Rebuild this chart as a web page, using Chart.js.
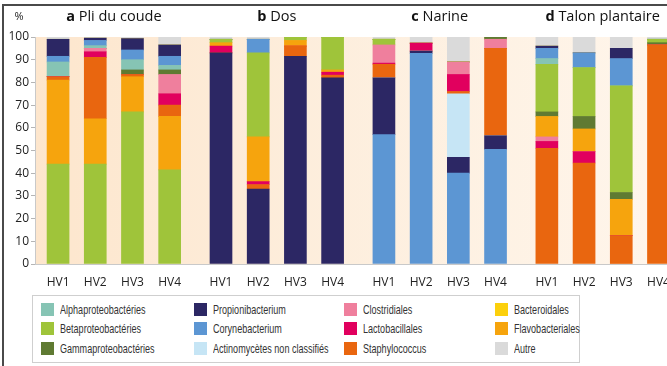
<!DOCTYPE html>
<html>
<head>
<meta charset="utf-8">
<title>Microbiote cutané - 4 sites</title>
<script src="https://cdn.jsdelivr.net/npm/chart.js"></script>
<style>
  body {
    margin: 0;
    background: #fff;
    overflow: hidden;
    font-family: 'Liberation Sans', Arial, sans-serif;
  }
  .frame {
    position: absolute;
    left: 2px;
    top: 4px;
    width: 720px;
    height: 400px;
    border-top: 2px solid #4a4a4a;
    border-left: 2px solid #4a4a4a;
  }
  .chart-box {
    position: absolute;
    left: 0;
    top: 0;
    width: 690px;
    height: 292px;
  }
  .legend {
    position: absolute;
    left: 32px;
    top: 295px;
    width: 548px;
    height: 68px;
    border: 1px solid #cfcfcf;
    box-sizing: border-box;
    background: #fff;
  }
  .legend .item {
    position: absolute;
    display: flex;
    align-items: center;
    font-size: 13.5px;
    color: #333;
    white-space: nowrap;
  }
  .legend .sw {
    width: 13px;
    height: 13px;
    margin-right: 6px;
    flex: none;
  }
  /* narrow face for the legend labels */
  .legend .txt {
    display: inline-block;
    transform: scaleX(0.67);
    transform-origin: left center;
  }
</style>
</head>
<body>
  <div class="frame"></div>
  <div class="chart-box"><canvas id="abundance" width="690" height="292"></canvas></div>
  <div class="legend" id="legend"></div>

<script>
  // sites (panels) and volunteers
  const siteLetters = ['a', 'b', 'c', 'd'];
  const sites = ['Pli du coude', 'Dos', 'Narine', 'Talon plantaire'];
  const volunteers = ['HV1', 'HV2', 'HV3', 'HV4'];
  const yTicks = [0, 10, 20, 30, 40, 50, 60, 70, 80, 90, 100];

  // relative abundance (%) : a HV1-4, b HV1-4, c HV1-4, d HV1-4
  const alphaproteo   = [6.5, 1.2, 4.5, 2,    0, 0, 0, 0,       0, 0, 0, 0,          2.5, 0, 0, 0];
  const betaproteo    = [44, 44, 67, 41.5,    1.5, 37, 1.5, 14.5, 2.5, 0, 0, 0,        21, 21.5, 47, 1.5];
  const gammaproteo   = [0, 0, 2, 2,          0, 0, 0, 0,       0, 0, 0, 1,          2, 5.5, 3, 1];
  const propioni      = [7.5, 1, 5, 5,        93, 33, 91.5, 82, 25, 1, 7, 6,         1, 0, 4.5, 0];
  const coryne        = [2.5, 2.3, 4.3, 4,    0, 6, 0, 0,       57, 92.8, 40, 50.5,  4.5, 6.5, 12, 0];
  const actino        = [0, 0, 0, 0,          0, 0, 0, 0,       0, 0, 28, 0,         0, 0, 0, 0];
  const clostridiales = [0, 1.5, 0, 8.5,      0, 0, 0, 0,       8, 0, 5.5, 4,        2, 0, 0, 0];
  const lactobac      = [0, 2.5, 0, 5,        3, 1.3, 0, 1.3,   0.5, 3.5, 7.5, 0,    3, 5, 0, 0];
  const staphylo      = [1.5, 27, 1, 5,       0, 2, 4.5, 1.2,   6, 0, 1, 38.5,       51, 44.5, 12.5, 96.5];
  const bacteroidales = [0, 0, 0, 0,          0, 0, 0, 0,       0, 0, 0, 0,          0, 0, 0, 0];
  const flavobact     = [37, 20, 15.5, 23.5,  1.5, 19.7, 2.5, 1, 0, 0, 0, 0,         9, 10, 16, 0];
  const autre         = [1, 0.5, 0.7, 3.5,    1, 1, 0, 0,       1, 2.7, 11, 0,       4, 7, 5, 1];

  const taxa = {
    alpha:  { label: 'Alphaproteobactéries', values: alphaproteo, color: '#86c4b4' },
    beta:   { label: 'Betaproteobactéries', values: betaproteo, color: '#9fc43a' },
    gamma:  { label: 'Gammaproteobactéries', values: gammaproteo, color: '#5f7a32' },
    prop:   { label: 'Propionibacterium', values: propioni, color: '#2c2764' },
    cory:   { label: 'Corynebacterium', values: coryne, color: '#5c96d3' },
    actino: { label: 'Actinomycètes non classifiés', values: actino, color: '#c6e5f5' },
    clos:   { label: 'Clostridiales', values: clostridiales, color: '#ef7f9d' },
    lacto:  { label: 'Lactobacillales', values: lactobac, color: '#e1005e' },
    staph:  { label: 'Staphylococcus', values: staphylo, color: '#e9660f' },
    bact:   { label: 'Bacteroidales', values: bacteroidales, color: '#fcd00c' },
    flavo:  { label: 'Flavobacteriales', values: flavobact, color: '#f6a40d' },
    autre:  { label: 'Autre', values: autre, color: '#dadada' }
  };

  // stacking order inside each panel, bottom to top
  const stackOrder = [
    ['beta', 'flavo', 'staph', 'lacto', 'clos', 'gamma', 'alpha', 'cory', 'prop', 'bact', 'actino', 'autre'],
    ['prop', 'staph', 'lacto', 'flavo', 'beta', 'cory', 'alpha', 'gamma', 'clos', 'bact', 'actino', 'autre'],
    ['cory', 'prop', 'actino', 'staph', 'lacto', 'clos', 'beta', 'gamma', 'alpha', 'flavo', 'bact', 'autre'],
    ['staph', 'lacto', 'clos', 'flavo', 'gamma', 'beta', 'alpha', 'cory', 'prop', 'bact', 'actino', 'autre']
  ];

  // legend layout: 4 columns of 3
  const legendColumns = [
    ['alpha', 'beta', 'gamma'],
    ['prop', 'cory', 'actino'],
    ['clos', 'lacto', 'staph'],
    ['bact', 'flavo', 'autre']
  ];

  const GROUP_STRIDE = 4.38;   // distance between panels, in bar slots
  const slot = j => Math.floor(j / 4) * GROUP_STRIDE + (j % 4);
  const positions = [];
  for (let j = 0; j < 16; j++) positions.push(slot(j));

  // one dataset per taxon and panel so every panel keeps its own stacking order
  const datasets = [];
  stackOrder.forEach((order, s) => {
    order.forEach(key => {
      const t = taxa[key];
      const pts = [];
      for (let i = 0; i < 4; i++) {
        const j = s * 4 + i;
        pts.push({ x: positions[j], y: t.values[j] });
      }
      datasets.push({
        label: t.label,
        data: pts,
        backgroundColor: t.color,
        borderWidth: 0,
        barThickness: 22,
        stack: 'abund'
      });
    });
  });

  const panelTitles = {
    id: 'panelTitles',
    beforeDraw(chart) {
      const { ctx, chartArea } = chart;
      const g = ctx.createLinearGradient(chartArea.left, 0, chartArea.right, 0);
      g.addColorStop(0, '#fde6cd');
      g.addColorStop(0.45, '#fdeedd');
      g.addColorStop(1, '#fff6ec');
      ctx.save();
      ctx.fillStyle = g;
      ctx.fillRect(chartArea.left, chartArea.top, chartArea.right - chartArea.left, chartArea.bottom - chartArea.top);
      ctx.restore();
    },
    afterDraw(chart) {
      const { ctx } = chart;
      const x = chart.scales.x;
      const size = 14.5;
      ctx.save();
      ctx.textBaseline = 'middle';
      ctx.fillStyle = '#111';
      sites.forEach((name, s) => {
        const cx = x.getPixelForValue(s * GROUP_STRIDE + 1.5);
        ctx.font = 'bold ' + size + 'px "Open Sans", sans-serif';
        const lw = ctx.measureText(siteLetters[s] + ' ').width;
        ctx.font = size + 'px "Open Sans", sans-serif';
        const nw = ctx.measureText(name).width;
        const left = cx - (lw + nw) / 2;
        ctx.textAlign = 'left';
        ctx.font = 'bold ' + size + 'px "Open Sans", sans-serif';
        ctx.fillText(siteLetters[s], left, 17);
        ctx.font = size + 'px "Open Sans", sans-serif';
        ctx.fillText(name, left + lw, 17);
      });
      ctx.font = '11px "Open Sans", sans-serif';
      ctx.textAlign = 'center';
      ctx.fillStyle = '#222';
      ctx.fillText('%', 19, 17);
      ctx.restore();
    }
  };

  const ctx = document.getElementById('abundance').getContext('2d');
  new Chart(ctx, {
    type: 'bar',
    data: { datasets },
    options: {
      responsive: false,
      animation: false,
      layout: { padding: { top: 37, left: 0, right: 0, bottom: 0 } },
      plugins: {
        legend: { display: false },
        tooltip: { enabled: false }
      },
      scales: {
        x: {
          type: 'linear',
          stacked: true,
          offset: false,
          min: -0.62,
          max: -0.62 + 655 / 37.2,
          grid: { display: false, offset: false },
          border: { color: '#c9c9c9' },
          afterBuildTicks: scale => {
            scale.ticks = positions.map(v => ({ value: v }));
          },
          afterFit: scale => { scale.height = 28; },
          ticks: {
            autoSkip: false,
            maxRotation: 0,
            padding: 3,
            color: '#222',
            font: { family: '"Open Sans", sans-serif', size: 12 },
            callback: (v, i) => volunteers[i % 4]
          }
        },
        y: {
          stacked: true,
          min: 0,
          max: 100,
          afterBuildTicks: scale => {
            scale.ticks = yTicks.map(v => ({ value: v }));
          },
          afterFit: scale => { scale.width = 35; },
          grid: { drawOnChartArea: false, drawTicks: true, tickLength: 4, color: '#b5b5b5' },
          border: { color: '#c9c9c9' },
          ticks: {
            padding: 2,
            color: '#222',
            font: { family: '"Open Sans", sans-serif', size: 12 }
          }
        }
      }
    },
    plugins: [panelTitles]
  });

  // legend built from the taxa table
  const legendEl = document.getElementById('legend');
  const colLeft = [8, 161, 311, 462];
  const rowTop = [6, 25, 45];
  legendColumns.forEach((col, c) => {
    col.forEach((key, r) => {
      const item = document.createElement('div');
      item.className = 'item';
      item.style.left = colLeft[c] + 'px';
      item.style.top = rowTop[r] + 'px';
      item.innerHTML = '<span class="sw" style="background:' + taxa[key].color + '"></span>' +
        '<span class="txt">' + taxa[key].label + '</span>';
      legendEl.appendChild(item);
    });
  });
</script>
</body>
</html>
